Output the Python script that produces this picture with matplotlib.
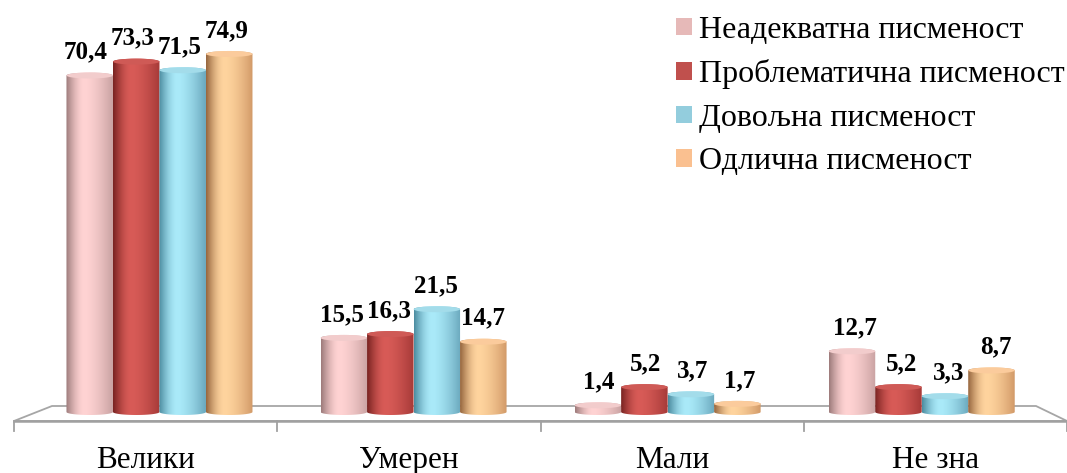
import numpy as np
import matplotlib.pyplot as plt
from matplotlib.patches import Polygon, Ellipse, Patch
from matplotlib.colors import to_rgb

categories = ['Велики', 'Умерен', 'Мали', 'Не зна']
series = ['Неадекватна писменост', 'Проблематична писменост',
          'Довољна писменост', 'Одлична писменост']
inadequate = [70.4, 15.5, 1.4, 12.7]
problematic = [73.3, 16.3, 5.2, 5.2]
sufficient = [71.5, 21.5, 3.7, 3.3]
excellent = [74.9, 14.7, 1.7, 8.7]
values = [inadequate, problematic, sufficient, excellent]

legend_colors = ['#e6b9b8', '#c0504d', '#93cddd', '#fac090']
# cylinder shading: left edge, highlight, right edge, top cap
shades = [
    ('#9e7c7c', '#ffd3d3', '#c9a2a2', '#f2cccc'),
    ('#7a2422', '#d85b57', '#a63a38', '#cf5a56'),
    ('#4d8da1', '#aaeaf9', '#6aa8bd', '#a3dcea'),
    ('#97673f', '#ffd49e', '#d29a68', '#fbcb9c'),
]

W, H = 1067, 473
X0, PX_U = 14, 263.3      # left front corner, px per category
Y0, PX_V = 412, 4.78      # zero level, px per percent
FONT = 'Liberation Serif'

fig = plt.figure(figsize=(W / 100, H / 100), dpi=100)
fig.patch.set_facecolor('white')
ax = fig.add_axes([0, 0, 1, 1])
ax.axis('off')

def dx(px):
    return (px - X0) / PX_U

def dy(py):
    return (Y0 - py) / PX_V

# floor
floor = Polygon([(dx(14), dy(421)), (dx(52), dy(406)), (dx(1036), dy(406)),
                 (dx(1067), dy(421))], closed=True, facecolor='white',
                edgecolor='#a6a6a6', lw=1.3, zorder=1)
ax.add_patch(floor)
ax.plot([dx(14), dx(1067)], [dy(421), dy(421)], color='#a0a0a0', lw=1.8, zorder=1)
for k in range(len(categories) + 1):
    ax.plot([k, k], [dy(421), dy(431)], color='#a0a0a0', lw=1.3, zorder=1)
for k, cat in enumerate(categories):
    ax.text(k + 0.5, dy(460), cat, ha='center', va='center', fontsize=22.5,
            family=FONT, color='black')

def gradient(c_left, c_hi, c_right, n=80):
    t = np.linspace(0, 1, n)
    a, b, c = (np.array(to_rgb(x)) for x in (c_left, c_hi, c_right))
    out = np.empty((1, n, 3))
    for i, ti in enumerate(t):
        if ti < 0.4:
            s = np.sin(ti / 0.4 * np.pi / 2)
            out[0, i] = a + (b - a) * s
        else:
            s = ((ti - 0.4) / 0.6) ** 1.5
            out[0, i] = b + (c - b) * s
    return out

bw = 46.5 / PX_U
eh = 6 / PX_V
theta_lo = np.linspace(np.pi, 2 * np.pi, 40)
theta_hi = np.linspace(0, np.pi, 40)

for j, vals in enumerate(values):
    left, hi, right, cap = shades[j]
    grad = gradient(left, hi, right)
    for i, v in enumerate(vals):
        gc = 2 + (i - 1.5) * 0.965
        xc = gc + (j - 1.5) * bw
        pts = np.vstack([
            np.column_stack([xc + bw / 2 * np.cos(theta_lo), eh / 2 * np.sin(theta_lo)]),
            np.column_stack([xc + bw / 2 * np.cos(theta_hi), v + eh / 2 * np.sin(theta_hi)]),
        ])
        body = Polygon(pts, closed=True, facecolor='none', edgecolor='none', zorder=3)
        ax.add_patch(body)
        im = ax.imshow(grad, extent=[xc - bw / 2, xc + bw / 2, -eh, v + eh],
                       aspect='auto', interpolation='bilinear', zorder=3)
        im.set_clip_path(body)
        ax.add_patch(Ellipse((xc, v), bw, eh, facecolor=cap, edgecolor='none', zorder=3))
        ax.text(xc + (xc - 2) * 0.01, v + 17 / PX_V, f'{v:.1f}'.replace('.', ','),
                ha='center', va='baseline', fontsize=18, fontweight='bold',
                family=FONT, zorder=5)

ax.set_xlim(-X0 / PX_U, (W - X0) / PX_U)
ax.set_ylim(-(H - Y0) / PX_V, Y0 / PX_V)

handles = [Patch(facecolor=c, edgecolor='none') for c in legend_colors]
fig.legend(handles, series, loc='upper left', bbox_to_anchor=(676 / W, 1 - 16 / H),
           frameon=False, prop={'family': FONT, 'size': 23},
           handlelength=0.5, handleheight=0.47, handletextpad=0.22,
           labelspacing=0.45, borderpad=0, borderaxespad=0)

fig.savefig('out.png', dpi=100, facecolor='white')
